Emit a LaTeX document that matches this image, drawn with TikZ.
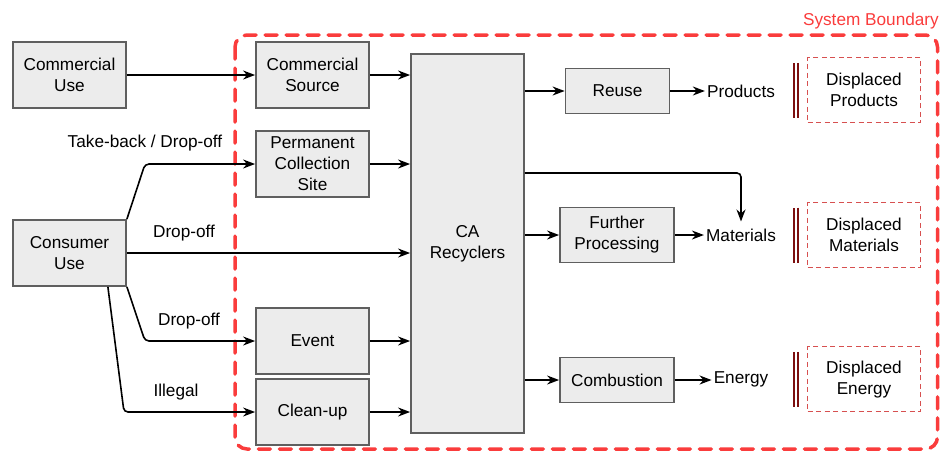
\documentclass[tikz,border=0pt]{standalone}
\usepackage{fontspec}
\setmainfont{Liberation Sans}
\usetikzlibrary{arrows.meta,calc,positioning}
\definecolor{boxgray}{RGB}{95,95,95}
\definecolor{boxfill}{RGB}{236,236,236}
\definecolor{boundred}{RGB}{250,60,60}
\definecolor{offsetred}{RGB}{215,80,80}
\definecolor{barred}{RGB}{125,15,15}
\tikzset{
  >={Stealth[length=12pt,width=9pt]},
  flow/.style={->,draw=black,line width=1.6pt},
  bendflow/.style={flow,rounded corners=4pt},
  procbox/.style={
    draw=boxgray,
    fill=boxfill,
    line width=1.8pt,
    rectangle,
    minimum width=113pt,
    minimum height=66pt,
    inner sep=0pt,
    align=center,
    font=\fontsize{17.2}{21}\selectfont
  },
  offsetbox/.style={
    draw=offsetred,
    dash pattern=on 5pt off 3.5pt,
    line width=1.2pt,
    rectangle,
    minimum width=113pt,
    minimum height=65pt,
    inner sep=0pt,
    align=center,
    font=\fontsize{17.2}{21}\selectfont
  },
  outtext/.style={inner sep=2pt,font=\fontsize{17.2}{21}\selectfont},
  flowlabel/.style={inner sep=0pt,font=\fontsize{17.2}{21}\selectfont},
  offsetbar/.style={draw=barred,line width=2.2pt,double=white,double distance=2pt},
  boundary/.style={draw=boundred,line width=3.5pt,line cap=round,
    dash pattern=on 12pt off 9pt,rounded corners=12pt}
}

\begin{document}
\begin{tikzpicture}[x=1pt,y=-1pt]
  \useasboundingbox (0,0) rectangle (940,451);

  % System boundary
  \draw[boundary] (235,35) rectangle (937.5,449);
  \node[flowlabel,text=boundred,anchor=base east] (sysb) at (939,25.5) {System Boundary};

  % Sources of use
  \node[procbox] (commuse) at (69.5,75) {Commercial\\Use};
  \node[procbox] (consuse) at (69.5,253) {Consumer\\Use};

  % Collection channels
  \node[procbox] (commsrc) at (312.5,75) {Commercial\\Source};
  \node[procbox] (permsite) at (312.5,164) {Permanent\\Collection\\Site};
  \node[procbox] (event) at (312.5,341) {Event};
  \node[procbox] (cleanup) at (312.5,412) {Clean-up};

  % Recyclers
  \node[procbox,minimum height=379pt] (carec) at (467.5,243.5) {CA\\Recyclers};

  % Treatment
  \node[procbox,minimum width=104pt,minimum height=45pt] (reuse) at (617.5,91) {Reuse};
  \node[procbox,minimum width=114pt,minimum height=55pt] (furproc) at (617,235) {Further\\Processing};
  \node[procbox,minimum width=114pt,minimum height=45pt] (combust) at (617,380) {Combustion};

  % Outputs
  \node[outtext] (prodtxt) at (741,91) {Products};
  \node[outtext] (mattxt) at (741,235) {Materials};
  \node[outtext] (enertxt) at (741,379) {Energy};

  % Displaced production
  \node[offsetbox] (dprod) at (864,90.3) {Displaced\\Products};
  \node[offsetbox] (dmat) at (864,235.2) {Displaced\\Materials};
  \node[offsetbox] (dener) at (864,379.3) {Displaced\\Energy};
  \foreach \dn in {dprod,dmat,dener} {
    \draw[offsetbar] ($(\dn.west)+(-11,-27.5)$) -- ($(\dn.west)+(-11,27.5)$);
  }

  % Flows into collection
  \draw[flow] (commuse.east) -- (commsrc.west);
  \draw[bendflow] (consuse.north east) -- (145,164) -- (permsite.west);
  \draw[flow] (consuse.east) -- (consuse.east -| carec.west);
  \draw[bendflow] (consuse.south east) -- (145,341) -- (event.west);
  \draw[bendflow] ([xshift=-19pt]consuse.south east) -- (124,412) -- (cleanup.west);

  \node[flowlabel] (lbltake) at (145,143) {Take-back / Drop-off};
  \node[flowlabel] (lbldrop) at (184,233) {Drop-off};
  \node[flowlabel] (lblevent) at (189,321) {Drop-off};
  \node[flowlabel] (lblillegal) at (176,392) {Illegal};

  % Flows into recyclers
  \draw[flow] (commsrc.east) -- (commsrc.east -| carec.west);
  \draw[flow] (permsite.east) -- (permsite.east -| carec.west);
  \draw[flow] (event.east) -- (event.east -| carec.west);
  \draw[flow] (cleanup.east) -- (cleanup.east -| carec.west);

  % Flows out of recyclers
  \coordinate (matbend) at (741,173);
  \draw[flow] (carec.east |- reuse.west) -- (reuse.west);
  \draw[flow] (reuse.east) -- (reuse.east -| prodtxt.west);
  \draw[bendflow] (carec.east |- matbend) -- (matbend) -- ([yshift=5pt]mattxt.north);
  \draw[flow] (carec.east |- furproc.west) -- (furproc.west);
  \draw[flow] (furproc.east) -- (furproc.east -| mattxt.west);
  \draw[flow] (carec.east |- combust.west) -- (combust.west);
  \draw[flow] (combust.east) -- (combust.east -| enertxt.west);
\end{tikzpicture}
\end{document}
